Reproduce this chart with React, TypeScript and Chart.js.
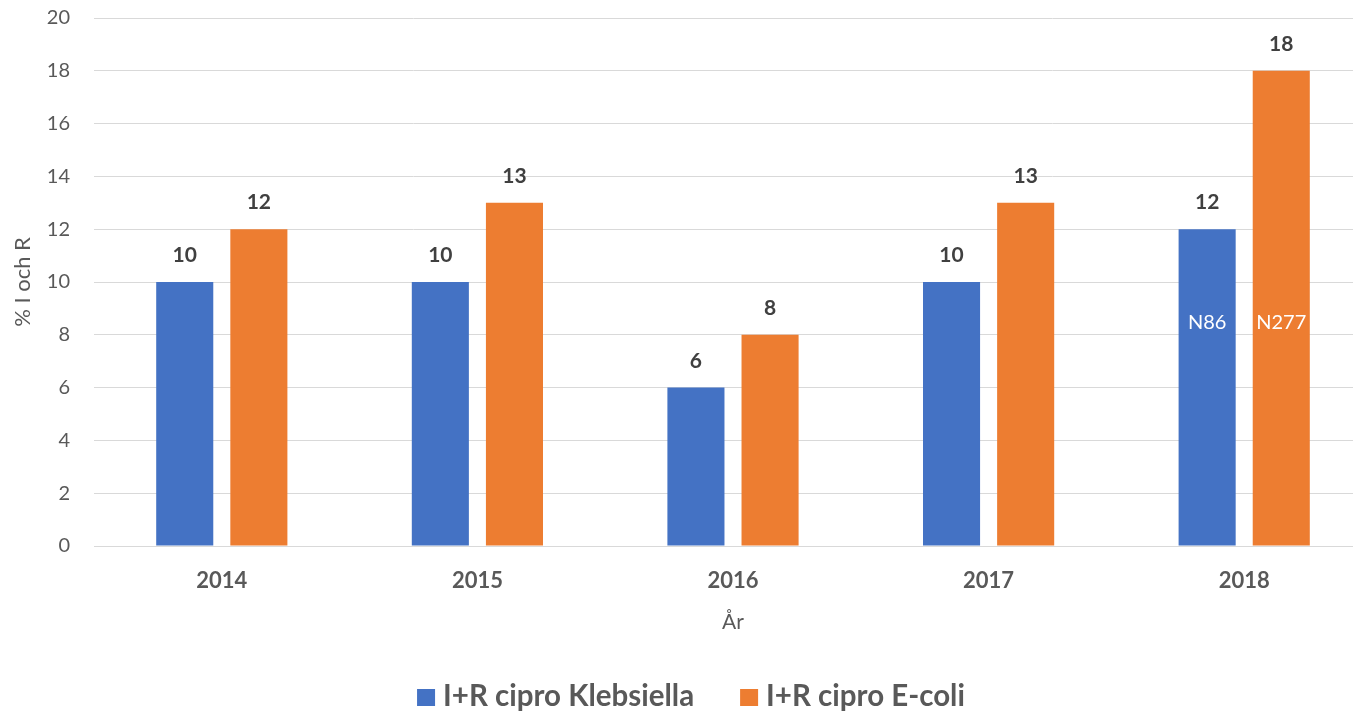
import React, { useEffect, useRef } from "react";
import Chart from "chart.js/auto";

const categories = ["2014", "2015", "2016", "2017", "2018"];
const klebsiella = [10, 10, 6, 10, 12];
const ecoli = [12, 13, 8, 13, 18];
const klebsiellaNotes = ["", "", "", "", "N86"];
const ecoliNotes = ["", "", "", "", "N277"];
const yTicks = [0, 2, 4, 6, 8, 10, 12, 14, 16, 18, 20];
const seriesNames = ["I+R cipro Klebsiella", "I+R cipro E-coli"];
const seriesColors = ["#4472C4", "#ED7D31"];

const FONT = "Lato, 'Open Sans', sans-serif";
const TEXT = "#595959";

const labelsPlugin = {
  id: "barLabels",
  afterDatasetsDraw(chart: any) {
    const ctx = chart.ctx;
    const notes = [klebsiellaNotes, ecoliNotes];
    ctx.save();
    chart.data.datasets.forEach((ds: any, di: number) => {
      const meta = chart.getDatasetMeta(di);
      meta.data.forEach((bar: any, i: number) => {
        ctx.font = `bold 21px ${FONT}`;
        ctx.fillStyle = "#404040";
        ctx.textAlign = "center";
        ctx.textBaseline = "alphabetic";
        ctx.fillText(String(ds.data[i]), bar.x, bar.y - 20);
        const note = notes[di][i];
        if (note) {
          ctx.font = `20px ${FONT}`;
          ctx.fillStyle = "#ffffff";
          ctx.fillText(note, bar.x, chart.scales.y.getPixelForValue(8.5) + 7.5);
        }
      });
    });
    ctx.restore();
  },
};

const legendPlugin = {
  id: "customLegend",
  afterDraw(chart: any) {
    const ctx = chart.ctx;
    ctx.save();
    ctx.font = `bold 29.5px ${FONT}`;
    const box = 18;
    const gapBT = 8;
    const gapItems = 46;
    const items = chart.data.datasets.map((ds: any) => ({
      text: ds.label,
      color: ds.backgroundColor,
      w: ctx.measureText(ds.label).width,
    }));
    const total =
      items.reduce((s: number, it: any) => s + box + gapBT + it.w, 0) +
      gapItems * (items.length - 1);
    let x = chart.width / 2 - total / 2;
    const baseline = 706;
    items.forEach((it: any) => {
      ctx.fillStyle = it.color;
      ctx.fillRect(x, 689, box, box - 1);
      x += box + gapBT;
      ctx.fillStyle = TEXT;
      ctx.textAlign = "left";
      ctx.textBaseline = "alphabetic";
      ctx.fillText(it.text, x, baseline);
      x += it.w + gapItems;
    });
    ctx.restore();
  },
};

export default function App() {
  const ref = useRef<HTMLCanvasElement>(null);
  useEffect(() => {
    if (!ref.current) return;
    const chart = new Chart(ref.current, {
      type: "bar",
      data: {
        labels: categories,
        datasets: [
          {
            label: seriesNames[0],
            data: klebsiella,
            backgroundColor: seriesColors[0],
            borderWidth: 0,
            barPercentage: 0.77,
            categoryPercentage: 0.58,
          },
          {
            label: seriesNames[1],
            data: ecoli,
            backgroundColor: seriesColors[1],
            borderWidth: 0,
            barPercentage: 0.77,
            categoryPercentage: 0.58,
          },
        ],
      },
      options: {
        responsive: false,
        animation: false,
        layout: { padding: { top: 0, right: 10, bottom: 78, left: 0 } },
        plugins: {
          tooltip: { enabled: false },
          legend: { display: false },
        },
        scales: {
          x: {
            afterFit(scale: any) {
              scale.height = 89;
            },
            grid: { display: false, drawTicks: false },
            border: { color: "#D9D9D9", width: 1 },
            ticks: {
              color: TEXT,
              padding: 22,
              font: { family: FONT, size: 22, weight: "bold" },
            },
            title: {
              display: true,
              text: "År",
              color: TEXT,
              font: { family: FONT, size: 21 },
              padding: { top: 0, bottom: 0 },
            },
          },
          y: {
            min: 0,
            max: 20,
            afterBuildTicks(scale: any) {
              scale.ticks = yTicks.map((v) => ({ value: v }));
            },
            afterFit(scale: any) {
              scale.width = 94;
              scale.paddingTop = 18;
              scale.paddingBottom = 0;
            },
            grid: { color: "#D9D9D9", drawTicks: false },
            border: { display: false },
            ticks: {
              color: TEXT,
              padding: 24,
              font: { family: FONT, size: 20 },
            },
            title: {
              display: true,
              text: "% I och R",
              color: TEXT,
              font: { family: FONT, size: 22 },
              padding: { top: 10, bottom: 0 },
            },
          },
        },
      },
      plugins: [labelsPlugin, legendPlugin],
    });
    return () => chart.destroy();
  }, []);
  return (
    <div style={{ position: "fixed", left: 0, top: 0, width: "100vw", height: "100vh", overflow: "hidden", background: "#fff" }}>
      <canvas ref={ref} width={1382} height={713} style={{ display: "block" }} />
    </div>
  );
}
